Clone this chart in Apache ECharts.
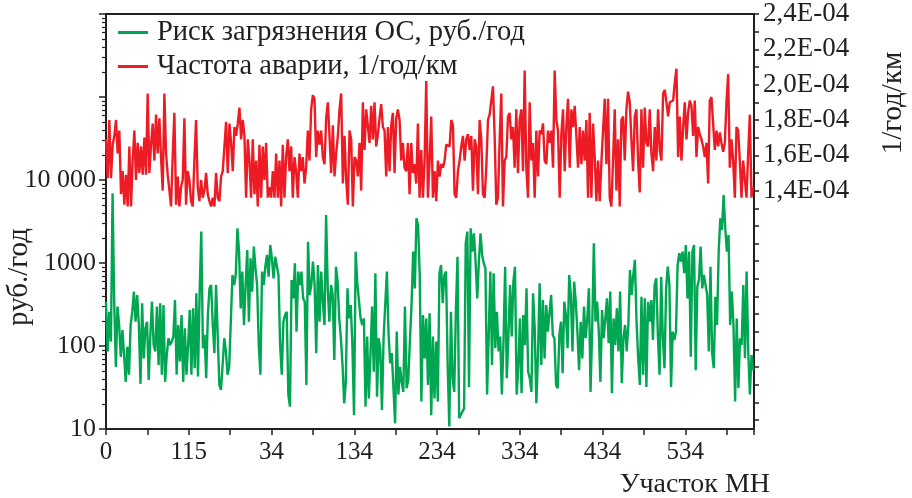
<!DOCTYPE html>
<html>
<head>
<meta charset="utf-8">
<script src="https://cdn.jsdelivr.net/npm/echarts@6/dist/echarts.min.js"></script>
<style>
html,body{margin:0;padding:0;background:#fff;}
#chart{width:912px;height:498px;}
</style>
</head>
<body>
<div id="chart"></div>
<script>
// подписи осей
var xLabels=['0','115','34','134','234','334','434','534'];
var leftLabels=['10','100','1000','10 000'];
var rightLabels=['1,4E-04','1,6E-04','1,8E-04','2,0E-04','2,2E-04','2,4E-04'];
var seriesNames=['Риск загрязнения ОС, руб./год','Частота аварии, 1/год/км'];

// риск загрязнения, руб./год
var riskValues=[
342,86,259,113,6900,342,56,298,179,74,
156,78,37,98,45,179,259,452,196,412,
179,35,327,71,163,196,39,136,342,103,
86,298,59,327,45,312,37,78,124,103,
113,130,358,45,179,65,236,37,163,45,
103,272,45,284,54,431,43,431,2390,94,
136,41,236,495,543,179,82,543,136,34,
29.5,59,124,86,45,56,59,717,543,717,
2620,1370,284,787,179,543,1435,196,1140,452,
1575,863,543,103,45,787,543,903,1250,684,
1650,1140,654,1190,1140,717,103,45,196,236,
259,26,18.6,624,375,990,149,787,543,787,
375,342,34,1807,412,543,1040,543,82,946,
196,787,342,179,3790,495,196,543,
412,68,903,596,215,124,59,20.4,37,495,
215,312,103,14.7,1370,569,543,215,179,215,
18.6,130,23.4,78,298,49,752,24.5,124,90,
17,124,124,787,142,62,82,31,11.7,149,
26,56,37,28,298,31,39,113,312,1370,
495,3450,2870,717,21.4,236,71,215,34,248,
14.7,130,23.4,113,21.4,752,946,327,717,787,
59,10.7,259,41,28,259,1190,13.5,14.7,16.2,
17.7,1730,2390,32,2620,1370,2280,1040,375,1040,
2280,1250,990,863,26,136,787,59,752,94,
259,86,130,26,113,903,41,136,543,130,
596,903,26,54,215,27,236,103,495,49,
41,28,431,163,20.4,78,569,59,358,71,
312,149,
149,412,136,124,34,31,136,196,47,342,
236,94,717,412,86,596,342,149,51,196,
71,298,124,215,495,28,163,1730,196,342,
149,37,272,124,215,375,108,452,27,215,
103,284,86,452,35.5,124,179,86,179,824,
412,717,1090,196,71,34,393,45,375,32,
342,196,358,118,543,654,130,45,684,124,
54,495,903,543,32,149,118,149,946,1310,
1040,1370,752,1650,375,1370,74,1370,1650,51,
519,624,1575,495,717,543,412,86,903,82,
54,393,179,1370,3450,2500,6600,2620,1370,2180,
179,452,179,21.4,215,31,124,103,543,71,
787,86,26,78,51
];

// частота аварии, 1E-04 1/год/км
var freqValues=[
1.69,1.47,1.80,1.47,1.66,1.71,1.80,1.61,1.74,1.38,
1.51,1.32,1.49,1.31,1.65,1.31,1.57,1.74,1.46,1.67,
1.50,1.65,1.49,1.70,1.49,1.95,1.50,1.66,1.78,1.57,
1.83,1.61,1.81,1.59,1.40,1.95,1.61,1.49,1.48,1.31,
1.60,1.84,1.32,1.48,1.31,1.42,1.46,1.81,1.32,1.51,
1.46,1.34,1.31,1.57,1.80,1.42,1.34,1.46,1.36,1.40,
1.50,1.38,1.34,1.31,1.36,1.31,1.50,1.36,1.34,1.48,
1.51,1.65,1.79,1.50,1.78,1.67,1.51,1.76,1.71,1.78,
1.87,1.69,1.80,1.71,1.36,1.69,1.57,1.36,1.69,1.38,
1.57,1.31,1.66,1.36,1.65,1.46,1.67,1.36,1.42,1.36,
1.51,1.36,1.61,1.36,1.57,1.31,1.66,1.36,1.59,1.69,
1.51,1.65,1.36,1.59,1.51,1.36,1.61,1.51,1.59,1.44,
1.53,1.74,1.57,1.86,1.94,1.92,1.59,1.74,1.66,1.74,
1.59,1.55,
1.81,1.90,1.71,1.50,1.77,1.48,1.61,1.71,1.86,1.95,
1.44,1.71,1.46,1.32,1.74,1.69,1.31,1.59,1.57,1.48,
1.67,1.40,1.90,1.63,1.86,1.86,1.67,1.88,1.69,1.90,
1.65,1.72,1.81,1.89,1.76,1.74,1.48,1.76,1.51,1.77,
1.84,1.50,1.81,1.86,1.80,1.57,1.67,1.53,1.51,1.67,
1.38,1.67,1.50,1.55,1.44,1.78,1.36,1.63,1.36,1.57,
2.02,1.36,1.57,1.82,1.36,1.51,1.34,1.57,1.48,1.55,
1.53,1.57,1.66,1.67,1.65,1.80,1.77,1.38,1.36,1.51,
1.57,1.65,1.71,1.57,1.69,1.72,1.63,1.71,1.40,1.69,
1.65,1.38,1.80,1.69,1.38,1.36,1.53,1.80,1.83,1.84,
1.99,1.71,1.32,1.36,1.69,1.95,1.31,1.57,1.59,1.82,
1.84,1.69,1.76,1.53,1.86,1.50,1.80,1.86,1.51,2.08,
1.53,1.36,1.90,1.57,1.67,1.36,1.74,1.48,1.74,1.72,
1.78,1.57,
1.55,1.74,1.67,1.74,1.53,2.08,1.80,1.74,1.36,1.72,
1.86,1.51,1.76,1.92,1.53,1.86,1.76,1.88,1.71,1.53,
1.76,1.55,1.74,1.57,1.80,1.36,1.84,1.36,1.78,1.59,
1.34,1.57,1.34,1.56,1.74,1.92,1.55,1.92,1.36,1.31,
1.57,1.86,1.40,1.69,1.31,1.80,1.82,1.57,1.86,1.96,
1.90,1.69,1.51,1.82,1.86,1.57,1.39,1.86,1.53,1.87,
1.67,1.65,1.86,1.61,1.51,1.76,1.57,1.86,1.63,1.57,
1.95,1.97,1.90,1.82,1.90,1.89,1.91,2.01,2.09,1.59,
1.82,1.57,1.76,1.90,1.69,1.84,1.91,1.88,1.71,1.91,
1.59,1.76,1.72,1.69,1.65,1.59,1.67,1.44,1.91,1.93,
1.78,1.63,1.74,1.65,1.73,1.67,1.62,1.67,1.90,2.06,
1.53,1.69,1.57,1.36,1.76,1.74,1.57,1.36,1.57,1.57,
1.36,1.61,1.83,1.36,1.42
];

var FONT='Liberation Serif';
var INK='#231f20';
var X_MAX=783, X_SPAN=782;

function toXY(arr){
	var step=X_SPAN/(arr.length-1);
	return arr.map(function(v,i){return [i*step,v];});
}

// тики
var xLabelVals=xLabels.map(function(s,i){return i*100;});
var leftMajor=[10,100,1000,10000,100000,1000000];
var leftMinor=[];
for(var d=10;d<1000000;d*=10){for(var k=2;k<10;k++){leftMinor.push(d*k);}}
var rightLabelVals=rightLabels.map(function(s,i){return +(1.4+0.2*i).toFixed(1);});
var rightTicks=[];
for(var t=1;t<=24;t++){rightTicks.push(t/10);}

var mychart=echarts.init(document.getElementById('chart'));
var option={
	animation:false,
	backgroundColor:'#fff',
	grid:{left:106,right:158,top:14,bottom:69,show:true,borderColor:INK,borderWidth:2,backgroundColor:'transparent'},
	legend:{
		orient:'vertical',left:113,top:13,
		icon:'rect',itemWidth:30,itemHeight:3,itemGap:5,
		data:seriesNames,
		textStyle:{fontFamily:FONT,fontSize:28.5,color:INK,padding:[0,0,0,4]}
	},
	xAxis:{
		type:'value',min:0,max:X_MAX,interval:50,
		axisLine:{lineStyle:{color:INK,width:2}},
		axisTick:{length:6,lineStyle:{color:INK,width:1.5}},
		axisLabel:{customValues:xLabelVals,margin:11,fontFamily:FONT,fontSize:25,color:INK,
			formatter:function(v){return xLabels[Math.round(v/100)];}},
		splitLine:{show:false}
	},
	yAxis:[{
		type:'log',min:10,max:1000000,position:'left',
		axisLine:{show:true,lineStyle:{color:INK,width:2}},
		axisTick:{customValues:leftMajor,length:7,lineStyle:{color:INK,width:1.5}},
		axisLabel:{customValues:[10,100,1000,10000],margin:10,fontFamily:FONT,fontSize:26,color:INK,
			formatter:function(v){return leftLabels[Math.round(Math.log10(v))-1];}},
		splitLine:{show:false}
	},{
		type:'value',min:0.05,max:2.4,position:'right',
		axisLine:{show:true,lineStyle:{color:INK,width:2}},
		axisTick:{customValues:rightTicks,length:5,lineStyle:{color:INK,width:1.5}},
		axisLabel:{customValues:rightLabelVals,margin:9,fontFamily:FONT,fontSize:27,color:INK,
			formatter:function(v){return rightLabels[Math.round((v-1.4)/0.2)];}},
		splitLine:{show:false}
	},{
		type:'log',min:10,max:1000000,position:'left',
		axisLine:{show:false},
		axisTick:{customValues:leftMinor,length:4,lineStyle:{color:INK,width:1.2}},
		axisLabel:{show:false},
		splitLine:{show:false}
	}],
	graphic:[
		{type:'text',x:19,y:277,rotation:Math.PI/2,style:{text:'руб./год',font:'29px "Liberation Serif"',fill:INK,align:'center',verticalAlign:'middle'}},
		{type:'text',x:893,y:103,rotation:Math.PI/2,style:{text:'1/год/км',font:'29px "Liberation Serif"',fill:INK,align:'center',verticalAlign:'middle'}},
		{type:'text',x:770,y:485,style:{text:'Участок МН',font:'28px "Liberation Serif"',fill:INK,align:'right',verticalAlign:'middle'}}
	],
	series:[{
		name:seriesNames[0],type:'line',yAxisIndex:0,symbol:'none',
		lineStyle:{color:'#00a651',width:2.4},itemStyle:{color:'#00a651'},
		data:toXY(riskValues)
	},{
		name:seriesNames[1],type:'line',yAxisIndex:1,symbol:'none',
		lineStyle:{color:'#ed1c24',width:2.4},itemStyle:{color:'#ed1c24'},
		data:toXY(freqValues)
	}]
};
mychart.setOption(option);
</script>
</body>
</html>
